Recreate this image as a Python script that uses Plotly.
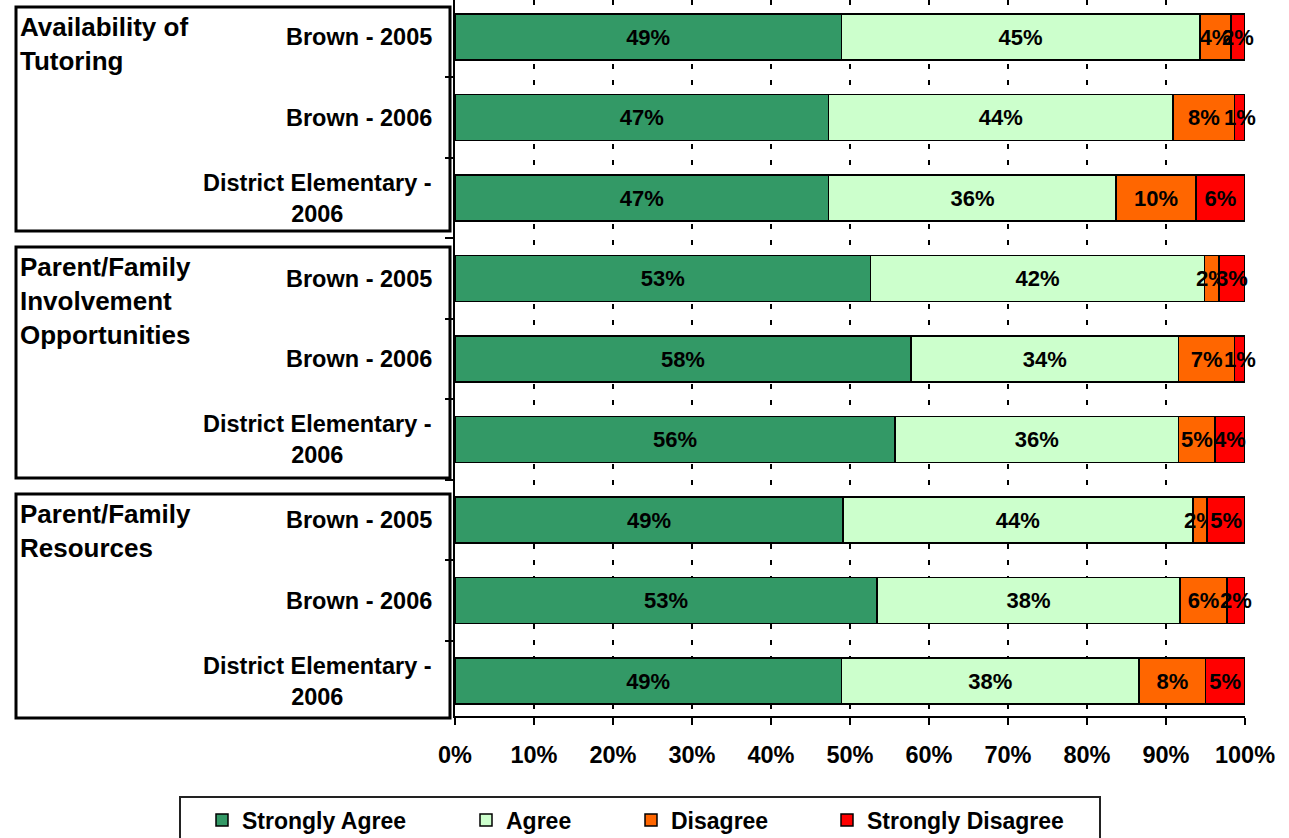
import plotly.graph_objects as go

# ---- data ----
groups = ["Availability of<br>Tutoring",
          "Parent/Family<br>Involvement<br>Opportunities",
          "Parent/Family<br>Resources"]
subcats = ["Brown - 2005", "Brown - 2006", "District Elementary -<br>2006"]
series_names = ["Strongly Agree", "Agree", "Disagree", "Strongly Disagree"]
strongly_agree = [48.9, 47.3, 47.3, 52.6, 57.7, 55.7, 49.1, 53.4, 48.9]
agree = [45.4, 43.6, 36.4, 42.3, 33.9, 35.9, 44.3, 38.4, 37.7]
disagree = [3.9, 7.8, 10.1, 1.8, 7.1, 4.6, 1.8, 5.9, 8.4]
strongly_disagree = [1.8, 1.3, 6.2, 3.3, 1.3, 3.8, 4.8, 2.3, 5.0]
x_ticks = [0, 10, 20, 30, 40, 50, 60, 70, 80, 90, 100]
x_tick_labels = ["0%", "10%", "20%", "30%", "40%", "50%", "60%", "70%",
                 "80%", "90%", "100%"]

colors = ["#339966", "#CCFFCC", "#FF6600", "#FF0000"]
FONT = "Liberation Sans, Arial, sans-serif"

rows = list(range(len(groups) * len(subcats)))
values = [strongly_agree, agree, disagree, strongly_disagree]

fig = go.Figure()
legend_ids = ["legend", "legend2", "legend3", "legend4"]
for name, vals, col, lg in zip(series_names, values, colors, legend_ids):
    fig.add_trace(go.Bar(
        x=vals, y=rows, orientation="h", name=name,
        marker=dict(color=col, line=dict(color="black", width=1.5)),
        width=0.57,
        texttemplate="%{x:.0f}%", textposition="inside",
        insidetextanchor="middle", textangle=0, constraintext="none",
        textfont=dict(family=FONT, size=22, color="black", weight="bold"),
        cliponaxis=False, legend=lg,
        hoverinfo="x+name",
    ))

# plot area geometry in pixels
W, H = 1289, 838
L, R, T, B = 455, 44, 0, 122
ph = H - T - B

def py(px):
    return 1 - (px - T) / ph

def pxx(px):
    return (px - L) / (W - L - R)

annotations = []
# sub-category labels
for i in rows:
    annotations.append(dict(
        text=subcats[i % 3], xref="paper", yref="y", x=pxx(434), y=i,
        xanchor="right", yanchor="middle", align="center", showarrow=False,
        font=dict(family=FONT, size=23.5, color="black", weight="bold")))

# group boxes and labels
box_px = [(7, 231), (247, 478), (494, 718)]
shapes = []
for g, (top, bot) in zip(groups, box_px):
    shapes.append(dict(type="rect", xref="paper", yref="paper",
                       x0=pxx(16), x1=pxx(450), y0=py(top), y1=py(bot),
                       line=dict(color="black", width=3), layer="above"))
    annotations.append(dict(
        text=g, xref="paper", yref="paper", x=pxx(18), y=py(top + 3),
        xanchor="left", yanchor="top", align="left", showarrow=False,
        font=dict(family=FONT, size=26, color="black", weight="bold")))

# legend box
shapes.append(dict(type="rect", xref="paper", yref="paper",
                   x0=pxx(180), x1=pxx(1100), y0=py(797), y1=py(848),
                   line=dict(color="#222222", width=2)))

legend_font = dict(family=FONT, size=23, color="black", weight="bold")
text_start_px = [242, 506, 671, 867]
layout_legends = {}
for lg, tx in zip(legend_ids, text_start_px):
    layout_legends[lg] = dict(
        x=pxx(tx - 40), y=py(820), xanchor="left", yanchor="middle",
        orientation="h", font=legend_font, bgcolor="rgba(0,0,0,0)",
        borderwidth=0)

fig.update_layout(
    width=W, height=H,
    margin=dict(l=L, r=R, t=T, b=B, autoexpand=False),
    barmode="stack",
    plot_bgcolor="white", paper_bgcolor="white",
    font=dict(family=FONT, color="black"),
    showlegend=True,
    shapes=shapes, annotations=annotations,
    xaxis=dict(
        range=[0, 100], tickmode="array", tickvals=x_ticks,
        ticktext=x_tick_labels,
        tickfont=dict(family=FONT, size=23.5, color="black", weight="bold"),
        showline=True, linecolor="black", linewidth=2,
        ticks="outside", ticklen=7, tickwidth=2, tickcolor="black",
        ticklabelstandoff=10,
        showgrid=True, gridcolor="black", gridwidth=2, griddash="5px,11px",
        zeroline=False, fixedrange=True,
    ),
    yaxis=dict(
        range=[(716 - 37) / 80.5, -37 / 80.5],
        tickvals=[r + 0.5 for r in rows[:-1]], ticktext=["" for _ in rows[:-1]],
        showline=True, linecolor="black", linewidth=2,
        ticks="outside", ticklen=8, tickwidth=2, tickcolor="black",
        showgrid=False, zeroline=False, fixedrange=True,
    ),
    **layout_legends,
)

fig.write_html("out.html", config={"displayModeBar": False},
               post_script="document.body.style.margin='0';")
